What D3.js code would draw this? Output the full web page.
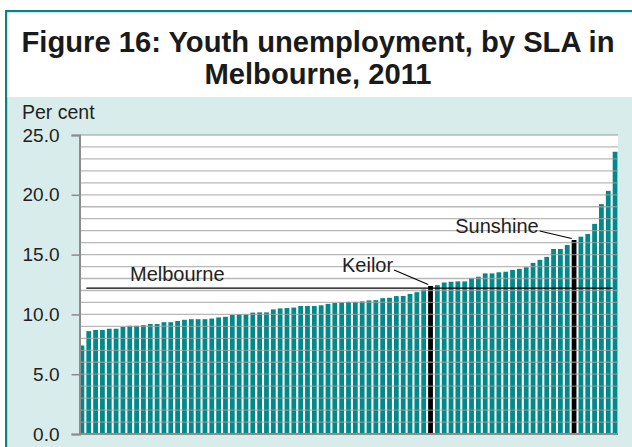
<!DOCTYPE html>
<html>
<head>
<meta charset="utf-8">
<script src="https://cdn.jsdelivr.net/npm/d3@7"></script>
<style>
  html, body { margin: 0; padding: 0; background: #ffffff; }
  svg { display: block; font-family: "Liberation Sans", Arial, sans-serif; }
</style>
</head>
<body>
<svg id="chart" width="632" height="447"></svg>
<script>
// ---- Data ----
const titleLines = ["Figure 16: Youth unemployment, by SLA in", "Melbourne, 2011"];
const yLabel = "Per cent";
const yTicks = [0, 5, 10, 15, 20, 25];
const slaValues = [
  7.4, 8.6, 8.7, 8.7, 8.8, 8.8, 8.95, 9.05, 9.05, 9.1,
  9.2, 9.2, 9.35, 9.35, 9.45, 9.55, 9.6, 9.6, 9.6, 9.65,
  9.75, 9.8, 9.95, 10.0, 10.0, 10.15, 10.17, 10.17, 10.42, 10.5,
  10.53, 10.57, 10.7, 10.7, 10.7, 10.76, 10.88, 10.95, 11.0, 11.05,
  11.05, 11.09, 11.17, 11.19, 11.36, 11.39, 11.53, 11.54, 11.71, 11.86,
  12.08, 12.38, 12.45, 12.67, 12.73, 12.76, 12.76, 13.04, 13.15, 13.43,
  13.43, 13.52, 13.57, 13.72, 13.81, 13.94, 14.31, 14.56, 14.81, 15.47,
  15.47, 15.8, 16.22, 16.5, 16.72, 17.57, 19.22, 20.33, 23.6
];
const slaIndex = slaValues.map((d, i) => i);
const highlightIndex = [51, 72];
const highlightNames = ["Keilor", "Sunshine"];
const melbourneAverage = 12.2;
const melbourneName = "Melbourne";

// ---- Layout ----
const W = 632, H = 447;
const plot = { left: 79.5, right: 618, top: 135, bottom: 434 };
const teal = "#00898A";
const textCol = "#231F20";

const svg = d3.select("#chart");

// background panels
svg.append("rect").attr("x", 0).attr("y", 0).attr("width", W).attr("height", H).attr("fill", "#ffffff");
svg.append("rect").attr("x", 6).attr("y", 97).attr("width", W - 6).attr("height", H - 97).attr("fill", "#D8ECEC");
// frame (top + left)
svg.append("rect").attr("x", 5).attr("y", 10).attr("width", W - 5).attr("height", 2.2).attr("fill", "#0E8282");
svg.append("rect").attr("x", 5).attr("y", 10).attr("width", 2.2).attr("height", H - 10).attr("fill", "#0E8282");

// title
svg.append("g").selectAll("text").data(titleLines).join("text")
  .attr("x", 318).attr("y", (d, i) => 52 + i * 32)
  .attr("text-anchor", "middle")
  .attr("font-size", 29.2).attr("font-weight", "bold").attr("fill", "#1a1a1a")
  .text(d => d);

// scales
const x = d3.scaleBand().domain(slaIndex).range([78.5, 618.5]).paddingInner(0.3).paddingOuter(0.15);
const y = d3.scaleLinear().domain([0, 25]).range([plot.bottom, plot.top]);

// plot background
svg.append("rect").attr("x", plot.left).attr("y", plot.top)
  .attr("width", plot.right - plot.left).attr("height", plot.bottom - plot.top).attr("fill", "#ffffff");

// bars
svg.append("g").selectAll("rect").data(slaValues).join("rect")
  .attr("x", (d, i) => x(i))
  .attr("y", d => y(d))
  .attr("width", x.bandwidth())
  .attr("height", d => y(0) - y(d))
  .attr("fill", (d, i) => highlightIndex.includes(i) ? "#000000" : teal);

// gridlines every 1.0 (drawn over bars, as in the reference)
const gridVals = d3.range(1, 26);
svg.append("g").selectAll("line").data(gridVals).join("line")
  .attr("x1", plot.left).attr("x2", plot.right)
  .attr("y1", d => y(d)).attr("y2", d => y(d))
  .attr("stroke", "#A0A0A0").attr("stroke-width", 1.3).attr("stroke-opacity", 0.75);

// y axis
const yAxis = d3.axisLeft(y).tickValues(yTicks).tickFormat(d3.format(".1f")).tickSize(8).tickPadding(12);
const gy = svg.append("g").attr("transform", `translate(${plot.left},0)`).call(yAxis);
gy.select(".domain").attr("stroke", "#8C8C8C").attr("stroke-width", 2);
gy.selectAll(".tick line").attr("stroke", "#8C8C8C").attr("stroke-width", 1.5);
gy.selectAll(".tick text").attr("font-size", 19).attr("fill", textCol)
  .attr("font-family", "'Liberation Sans', Arial, sans-serif");

// x axis baseline
svg.append("line").attr("x1", plot.left).attr("x2", plot.right)
  .attr("y1", y(0)).attr("y2", y(0)).attr("stroke", "#8C8C8C").attr("stroke-width", 2);

// y label
svg.append("text").attr("x", 22).attr("y", 119).attr("font-size", 19.5).attr("fill", textCol).text(yLabel);

// Melbourne average line
svg.append("line")
  .attr("x1", x(1)).attr("x2", x(slaValues.length - 1))
  .attr("y1", y(melbourneAverage)).attr("y2", y(melbourneAverage))
  .attr("stroke", "#000").attr("stroke-width", 1.3);
svg.append("text").attr("x", 130).attr("y", y(melbourneAverage) - 7)
  .attr("font-size", 20).attr("fill", textCol).text(melbourneName);

// annotations for highlighted SLAs
const annoText = [{ dx: -35, dy: -14 }, { dx: -33, dy: -7 }];
highlightIndex.forEach((idx, k) => {
  const bx = x(idx), by = y(slaValues[idx]);
  const tx = bx + annoText[k].dx, ty = by + annoText[k].dy;
  svg.append("line").attr("x1", tx + 1).attr("y1", ty - 2).attr("x2", bx).attr("y2", by - 1.5)
    .attr("stroke", "#000").attr("stroke-width", 1.2);
  svg.append("text").attr("x", tx).attr("y", ty).attr("text-anchor", "end")
    .attr("font-size", 20).attr("fill", textCol).text(highlightNames[k]);
});
</script>
</body>
</html>
